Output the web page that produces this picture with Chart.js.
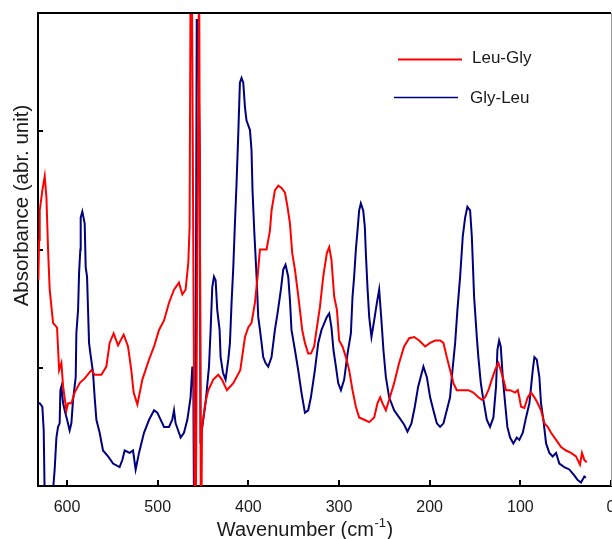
<!DOCTYPE html>
<html>
<head>
<meta charset="utf-8">
<script src="https://cdn.jsdelivr.net/npm/chart.js@4.4.1/dist/chart.umd.min.js"></script>
<style>
html,body{margin:0;padding:0;background:#fff;}
#wrap{position:relative;width:612px;height:539px;}
canvas{display:block;}
</style>
</head>
<body>
<div id="wrap"><canvas id="c" width="612" height="539"></canvas></div>
<script>
// ---- data ----
const seriesNames = ['Leu-Gly', 'Gly-Leu'];
const xTickValues = [0, 100, 200, 300, 400, 500, 600];
const yTickValues = [0, 1, 2, 3, 4];
const xTitle = 'Wavenumber (cm';
const xTitleSup = '-1';
const yTitle = 'Absorbance (abr. unit)';

const leuGlyWavenumber = [
631.6,630.8,630.1,627.2,624.6,622.7,620.9,619.1,615.4,611.0,
608.7,606.2,604.3,600.7,598.8,595.2,591.6,586.0,580.5,573.1,
569.5,562.1,556.6,553.0,548.6,543.7,537.5,532.7,529.1,526.5,
522.4,516.9,509.5,504.0,498.5,493.0,487.5,482.0,476.5,472.8,
469.2,466.2,464.8,463.6,462.4,459.1,458.0,454.3,453.6,452.4,451.8,
451.1,447.5,444.2,438.7,433.2,429.1,423.6,416.6,408.9,403.7,
400.1,396.5,392.7,389.8,387.2,379.9,376.2,374.4,370.7,367.0,
363.4,359.6,356.8,354.1,351.6,348.6,345.8,343.1,340.6,337.6,
334.0,331.0,327.4,324.8,321.1,317.4,313.4,310.8,308.3,305.3,
302.3,299.8,296.2,292.4,288.8,285.1,281.4,277.8,272.2,266.7,
261.2,257.6,254.6,252.1,248.3,244.7,239.2,233.7,228.2,222.6,
217.1,211.6,205.0,199.5,194.0,188.5,184.8,181.1,177.5,173.8,
170.1,164.6,157.3,151.8,146.3,142.5,138.9,135.2,131.5,127.9,
124.2,121.6,118.7,115.7,111.3,105.8,102.8,101.1,99.2,95.6,
91.8,88.2,84.5,80.8,77.2,73.5,69.8,66.1,60.6,55.1,
49.6,44.1,38.6,34.2,32.0,29.4,26.8];
const leuGlyAbsorbance = [
1.74,2.08,2.33,2.50,2.62,2.44,2.00,1.66,1.38,1.34,
0.98,1.04,0.84,0.64,0.70,0.70,0.79,0.87,0.91,0.98,
0.94,0.94,1.01,1.21,1.29,1.19,1.28,1.18,0.98,0.79,
0.69,0.90,1.07,1.18,1.32,1.40,1.55,1.66,1.72,1.62,
1.66,1.89,2.19,4.5,4.5,-0.3,-0.3,4.5,4.5,-0.3,-0.3,
0.50,0.70,0.81,0.90,0.94,0.90,0.81,0.87,0.98,1.26,
1.34,1.38,1.55,1.77,2.00,2.00,2.16,2.33,2.50,2.54,
2.52,2.48,2.36,2.22,1.97,1.83,1.66,1.49,1.32,1.21,
1.12,1.12,1.18,1.32,1.51,1.77,1.97,2.02,1.91,1.60,
1.49,1.23,1.18,1.09,0.98,0.81,0.67,0.58,0.56,0.54,
0.58,0.70,0.75,0.70,0.64,0.73,0.87,1.04,1.18,1.25,
1.26,1.23,1.18,1.21,1.23,1.23,1.21,1.09,0.98,0.87,
0.81,0.81,0.81,0.79,0.75,0.73,0.75,0.81,0.90,0.98,
1.04,0.98,0.90,0.81,0.81,0.79,0.81,0.75,0.67,0.66,
0.75,0.79,0.75,0.70,0.64,0.53,0.50,0.45,0.39,0.33,
0.30,0.28,0.25,0.18,0.28,0.22,0.20];

const glyLeuWavenumber = [
631.6,630.1,627.2,625.7,624.6,616.1,613.6,611.7,609.9,608.1,
607.3,606.2,604.3,602.6,599.9,597.1,595.2,593.3,590.4,589.7,
587.8,586.7,585.3,584.9,583.1,580.5,579.4,577.9,576.8,575.7,
574.2,571.3,569.5,567.6,564.0,560.3,554.7,549.2,542.0,539.0,
536.4,530.9,527.2,524.3,520.6,515.1,509.5,504.0,500.4,493.0,
487.5,483.9,482.0,480.2,476.5,474.7,471.0,467.3,463.7,461.8,
460.7,460.0,458.5,456.9,455.8,453.6,452.7,450.8,447.2,443.4,
441.6,439.8,437.9,436.1,434.3,431.7,430.6,428.0,425.1,422.1,
420.3,418.5,416.6,414.8,413.0,411.1,409.3,407.5,405.6,403.7,
402.0,398.2,396.5,395.4,393.5,390.9,389.1,387.2,385.4,383.6,
381.0,378.1,374.4,370.7,367.8,364.1,361.5,359.0,356.0,354.1,
352.4,348.6,345.0,341.4,337.6,334.0,331.0,326.6,322.9,319.3,
313.4,310.8,308.3,306.1,303.4,300.9,297.9,294.3,290.6,286.9,
285.1,283.3,281.4,279.6,277.8,275.9,273.3,271.5,270.4,268.6,
266.7,264.2,261.2,258.2,255.7,253.2,251.0,248.3,244.7,239.2,
233.7,228.2,224.5,220.1,216.4,212.7,208.6,206.9,203.1,199.5,
195.9,192.1,188.5,184.8,181.1,177.5,175.6,171.9,169.4,166.4,
163.5,160.9,158.4,155.4,153.5,152.4,151.0,148.0,146.3,143.6,
140.8,137.0,133.4,129.7,126.8,125.3,123.4,121.6,119.4,116.8,
114.3,111.3,107.7,103.9,101.1,97.3,93.7,90.0,86.3,84.5,
81.9,79.0,77.2,74.6,71.6,68.0,64.3,60.6,57.0,51.5,
46.0,40.5,36.7,33.1,29.4,27.6];
const glyLeuAbsorbance = [
0.70,0.70,0.67,0.47,-0.1,-0.1,0.14,0.41,0.50,0.53,
0.81,0.84,0.70,0.64,0.56,0.47,0.53,0.73,0.92,1.29,
1.49,1.80,2.00,2.27,2.32,2.22,1.85,1.77,1.49,1.21,
1.12,0.96,0.75,0.56,0.45,0.30,0.25,0.19,0.16,0.22,
0.30,0.28,0.30,0.14,0.28,0.45,0.56,0.64,0.62,0.50,
0.50,0.56,0.64,0.53,0.45,0.41,0.45,0.56,0.75,1.01,
0.92,-0.1,-0.1,3.94,3.94,2.84,0.36,0.50,0.70,1.01,
1.32,1.68,1.77,1.74,1.49,1.32,1.09,0.96,0.90,1.07,
1.21,1.55,1.85,2.22,2.56,2.98,3.41,3.45,3.41,3.20,
3.09,3.01,2.84,2.50,2.16,1.77,1.43,1.32,1.21,1.09,
1.04,1.01,1.09,1.32,1.46,1.66,1.83,1.87,1.77,1.57,
1.32,1.15,0.98,0.79,0.62,0.64,0.75,0.98,1.21,1.32,
1.43,1.46,1.34,1.15,1.01,0.87,0.81,0.90,1.12,1.29,
1.60,1.77,2.00,2.16,2.33,2.39,2.33,2.19,1.97,1.68,
1.43,1.26,1.40,1.55,1.66,1.40,1.15,0.92,0.75,0.64,
0.58,0.52,0.46,0.53,0.67,0.84,0.96,1.01,0.92,0.75,
0.64,0.53,0.50,0.53,0.64,0.75,0.92,1.21,1.49,1.77,
2.11,2.27,2.36,2.33,2.11,1.89,1.60,1.26,1.09,0.87,
0.73,0.56,0.50,0.58,0.84,1.15,1.23,1.18,0.92,0.70,
0.50,0.41,0.36,0.41,0.39,0.45,0.58,0.70,0.98,1.09,
1.07,0.92,0.70,0.56,0.36,0.28,0.25,0.28,0.19,0.16,
0.14,0.09,0.05,0.03,0.08,0.07];

// ---- styles ----
const RED = '#ff0000';
const NAVY = '#00007f';
const FONT = '"Liberation Sans", Arial, Helvetica, sans-serif';
const TEXT = '#1a1a1a';

const toPoints = (xs, ys) => xs.map((x, i) => ({ x: x, y: ys[i] }));

const decorPlugin = {
  id: 'decor',
  afterDraw(chart) {
    const ctx = chart.ctx;
    const a = chart.chartArea;
    ctx.save();
    // top frame
    ctx.strokeStyle = '#000';
    ctx.lineWidth = 2;
    ctx.beginPath();
    ctx.moveTo(a.left - 1, a.top);
    ctx.lineTo(a.right, a.top);
    ctx.stroke();
    // right frame
    ctx.strokeStyle = '#9a9a9a';
    ctx.lineWidth = 1;
    ctx.beginPath();
    ctx.moveTo(a.right + 0.5, a.top);
    ctx.lineTo(a.right + 0.5, a.bottom);
    ctx.stroke();

    // legend
    const legend = [
      { name: seriesNames[0], color: RED, lw: 2, x1: 398, x2: 462, y: 59.5, tx: 472, ty: 58 },
      { name: seriesNames[1], color: NAVY, lw: 1.6, x1: 394, x2: 458, y: 97.5, tx: 470, ty: 98 }
    ];
    ctx.font = '17px ' + FONT;
    ctx.textBaseline = 'middle';
    ctx.textAlign = 'left';
    legend.forEach(l => {
      ctx.strokeStyle = l.color;
      ctx.lineWidth = l.lw;
      ctx.beginPath();
      ctx.moveTo(l.x1, l.y);
      ctx.lineTo(l.x2, l.y);
      ctx.stroke();
      ctx.fillStyle = TEXT;
      ctx.fillText(l.name, l.tx, l.ty);
    });

    // x title with superscript
    ctx.fillStyle = TEXT;
    ctx.textBaseline = 'alphabetic';
    ctx.font = '20px ' + FONT;
    const w1 = ctx.measureText(xTitle).width;
    ctx.font = '13px ' + FONT;
    const w2 = ctx.measureText(xTitleSup).width;
    ctx.font = '20px ' + FONT;
    const w3 = ctx.measureText(')').width;
    const total = w1 + w2 + w3 + 1;
    let x = 305 - total / 2;
    const base = 536;
    ctx.fillText(xTitle, x, base);
    x += w1 + 0.5;
    ctx.font = '13px ' + FONT;
    ctx.fillText(xTitleSup, x, base - 9);
    x += w2 + 0.5;
    ctx.font = '20px ' + FONT;
    ctx.fillText(')', x, base);

    // y title
    ctx.save();
    ctx.translate(27.5, 205.5);
    ctx.rotate(-Math.PI / 2);
    ctx.font = '20.5px ' + FONT;
    ctx.textAlign = 'center';
    ctx.textBaseline = 'alphabetic';
    ctx.fillText(yTitle, 0, 0);
    ctx.restore();

    ctx.restore();
  }
};

new Chart(document.getElementById('c').getContext('2d'), {
  type: 'line',
  data: {
    datasets: [
      { label: seriesNames[0], data: toPoints(leuGlyWavenumber, leuGlyAbsorbance),
        borderColor: RED, backgroundColor: RED, borderWidth: 2, pointRadius: 0, tension: 0, fill: false, clip: 0 },
      { label: seriesNames[1], data: toPoints(glyLeuWavenumber, glyLeuAbsorbance),
        borderColor: NAVY, backgroundColor: NAVY, borderWidth: 2, pointRadius: 0, tension: 0, fill: false, clip: 0 }
    ]
  },
  options: {
    responsive: false,
    animation: false,
    devicePixelRatio: 1,
    layout: { padding: { left: 38, top: 13, right: 1, bottom: 0 } },
    plugins: { legend: { display: false }, tooltip: { enabled: false } },
    scales: {
      x: {
        type: 'linear', reverse: true, min: 0, max: 632,
        afterBuildTicks: s => { s.ticks = xTickValues.map(v => ({ value: v })); },
        afterFit: s => { s.height = 53; s.paddingLeft = 0; s.paddingRight = 0; },
        grid: { drawOnChartArea: false, drawTicks: true, tickLength: -6, color: '#000', lineWidth: 2 },
        border: { display: true, color: '#000', width: 2 },
        ticks: { padding: 18, color: TEXT, font: { family: FONT, size: 16 }, maxRotation: 0, autoSkip: false }
      },
      y: {
        type: 'linear', min: 0, max: 4,
        afterBuildTicks: s => { s.ticks = yTickValues.map(v => ({ value: v })); },
        afterFit: s => { s.width = 0; s.paddingTop = 0; s.paddingBottom = 0; },
        grid: { drawOnChartArea: false, drawTicks: true, tickLength: -5, color: '#000', lineWidth: 2 },
        border: { display: true, color: '#000', width: 2 },
        ticks: { callback: () => '', padding: 0 }
      }
    }
  },
  plugins: [decorPlugin]
});
</script>
</body>
</html>
